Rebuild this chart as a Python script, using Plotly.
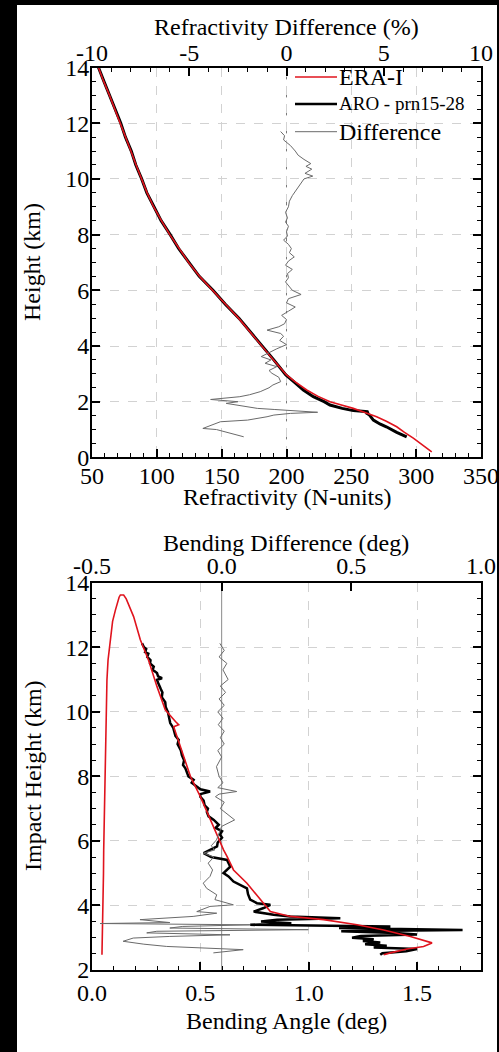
import plotly.graph_objects as go

W, H = 499, 1052
FONT = "Liberation Serif, Times New Roman, serif"

# ---------------- Panel 1: refractivity ----------------
era_ref_h = [0.2, 0.45, 0.69, 0.9, 1.1, 1.3, 1.46, 1.6, 1.76, 1.9, 2.0, 2.2, 2.42, 2.7, 2.96,
             3.5, 4.0, 4.5, 5.0, 5.5, 6.0, 6.5, 7.0, 7.5, 8.0, 8.5, 9.0, 9.5, 10.0, 10.5, 11.0,
             11.5, 12.0, 12.5, 13.0, 13.5, 14.0]
era_ref_n = [312, 305, 297.8, 291, 285, 277, 269.5, 261, 251.5, 241, 233.5, 224, 215.6, 207, 200,
             190, 181, 172, 163, 153, 143, 133, 124.5, 117, 110, 103.5, 97.5, 92.5, 88, 84, 80,
             76, 72, 67.5, 63.5, 59, 55]

aro_ref_h = [0.74, 0.9, 1.1, 1.2, 1.34, 1.45, 1.52, 1.58, 1.64, 1.68, 1.76, 1.88, 2.0, 2.18, 2.42,
             2.7, 2.96, 3.5, 4.0, 4.5, 5.0, 5.5, 6.0, 6.5, 7.0, 7.5, 8.0, 8.5, 9.0, 9.5,
             10.0, 10.5, 11.0, 11.5, 12.0, 12.5, 13.0, 13.5, 14.0]
aro_ref_n = [292.7, 285, 277, 272, 267, 265, 264, 262, 263, 251.5, 243, 233.5, 229, 220.7, 213,
             206, 199.5, 190.2, 181.3, 172.2, 163.3, 152.8, 143.3, 132.7, 124.8, 116.8, 110.3, 103.3,
             97.8, 92.3, 88.3, 83.8, 80.3, 75.8, 72.2, 67.7, 63.3, 59.2, 55]

diff_ref_h = [11.7, 11.55, 11.4, 11.2, 11.0, 10.85, 10.7, 10.55, 10.45, 10.35, 10.2, 10.1, 10.0,
              9.85, 9.7, 9.55, 9.4, 9.2, 9.0, 8.8, 8.6, 8.45, 8.3, 8.1, 7.95, 7.8, 7.65, 7.5,
              7.35, 7.2, 7.05, 6.9, 6.75, 6.6, 6.45, 6.3, 6.15, 6.0, 5.85, 5.7, 5.55, 5.4, 5.25,
              5.1, 4.95, 4.8, 4.69, 4.57, 4.45, 4.35, 4.2, 4.05, 3.9, 3.75, 3.62, 3.5, 3.38,
              3.26, 3.12, 3.02, 2.88, 2.72, 2.6, 2.5, 2.36, 2.25, 2.18, 2.08, 2.04, 2.0, 1.94,
              1.85, 1.76, 1.72, 1.68, 1.62, 1.58, 1.52, 1.46, 1.40, 1.34, 1.28, 1.2, 1.1, 1.04,
              1.0, 0.95, 0.87, 0.8, 0.74]
diff_ref_pct = [-0.3, -0.1, -0.15, 0.2, 0.45, 0.6, 0.9, 1.25, 1.0, 1.3, 0.95, 1.35, 0.9,
                0.75, 0.6, 0.45, 0.3, 0.15, 0.1, -0.05, 0.05, -0.05, 0.1, 0.0, 0.05, -0.15, 0.1, 0.25,
                0.15, 0.4, 0.1, -0.05, 0.3, 0.05, 0.1, -0.05, 0.15, 0.3, 0.75, 0.1, 0.0, 0.45, 0.1,
                -0.25, 0.0, -0.1, -0.4, -1.0, -0.3, -0.15, -0.35, 0.0, -0.5, -0.9, -1.3, -0.8, -1.1,
                -0.5, -0.9, -0.75, -0.4, -0.3, -0.7, -0.9, -1.35, -1.9, -2.4, -3.9, -3.3, -2.5, -3.1,
                -2.2, -1.5, -0.6, 0.6, 1.6, 0.2, -0.65, -1.0, -1.6, -2.0, -3.4, -3.7, -4.0, -4.3,
                -3.6, -3.3, -2.9, -2.5, -2.2]

ref_top_ticks = [-10, -5, 0, 5, 10]
ref_top_labels = ["-10", "-5", "0", "5", "10"]

# ---------------- Panel 2: bending angle ----------------
era_bend_h = [2.47, 3.0, 4.0, 5.0, 5.72, 7.0, 8.92, 10.0, 10.99, 11.6, 12.23, 12.8, 13.15, 13.4, 13.55,
              13.62, 13.62, 13.5, 13.31, 12.95, 12.23, 11.6, 10.78, 10.06, 9.7, 9.6, 9.54, 8.92,
              8.0, 7.37, 6.65, 6.03, 5.72, 5.52, 5.1, 4.69, 4.18, 3.81, 3.66, 3.56, 3.40, 3.24,
              3.04, 2.84, 2.73, 2.65, 2.53, 2.47]
era_bend_deg = [0.046, 0.048, 0.051, 0.053, 0.054, 0.057, 0.061, 0.065, 0.069, 0.074, 0.084, 0.095, 0.108,
                0.118, 0.125, 0.131, 0.146, 0.158, 0.169, 0.192, 0.223, 0.261, 0.3, 0.338, 0.385, 0.40,
                0.377, 0.408, 0.454, 0.5, 0.546, 0.584, 0.607, 0.623, 0.653, 0.715, 0.777, 0.823, 0.915,
                1.069, 1.223, 1.346, 1.469, 1.569, 1.53, 1.454, 1.377, 1.346]

aro_bend_h = [12.12, 12.0, 11.95, 11.85, 11.8, 11.7, 11.6, 11.5, 11.4, 11.3, 11.2, 11.1, 11.04, 10.99,
              10.9, 10.8, 10.7, 10.6, 10.45, 10.3, 10.15, 10.0, 9.85, 9.65, 9.5, 9.4, 9.25, 9.13,
              9.0, 8.8, 8.65, 8.5, 8.35, 8.25, 8.1, 8.0, 7.89, 7.8, 7.7, 7.6, 7.53, 7.45, 7.37,
              7.25, 7.1, 7.0, 6.9, 6.76, 6.65, 6.5, 6.4, 6.3, 6.2, 6.1, 5.95, 5.83, 5.72, 5.62,
              5.5, 5.41, 5.2, 5.0, 4.9, 4.74, 4.53, 4.35, 4.18, 4.07, 4.02, 3.92, 3.81, 3.71,
              3.66, 3.60, 3.56, 3.50, 3.45, 3.40, 3.37, 3.35, 3.30, 3.27, 3.24, 3.20, 3.15, 3.10,
              3.05, 3.00, 2.95, 2.90, 2.85, 2.80, 2.75, 2.70, 2.65, 2.58, 2.52, 2.47]
aro_bend_deg = [0.231, 0.24, 0.25, 0.245, 0.26, 0.255, 0.27, 0.268, 0.285, 0.28, 0.3, 0.305, 0.323, 0.3,
                0.305, 0.31, 0.318, 0.325, 0.322, 0.338, 0.34, 0.35, 0.355, 0.361, 0.375, 0.38, 0.385, 0.4,
                0.395, 0.41, 0.415, 0.425, 0.42, 0.431, 0.44, 0.445, 0.469, 0.46, 0.48, 0.5, 0.545, 0.5,
                0.5, 0.515, 0.52, 0.535, 0.53, 0.538, 0.562, 0.585, 0.57, 0.6, 0.59, 0.6, 0.58, 0.577,
                0.545, 0.515, 0.55, 0.623, 0.638, 0.607, 0.63,
                0.653, 0.715, 0.72, 0.73, 0.761, 0.823, 0.792, 0.746, 0.838, 0.915, 1.146, 0.854, 0.78,
                0.92, 0.73, 1.1, 1.377, 1.14, 1.55, 1.71, 1.15, 1.40, 1.50, 1.24, 1.20, 1.30, 1.25,
                1.33, 1.26, 1.36, 1.30, 1.50, 1.45, 1.34, 1.33]

diff_bend_h = [12.12, 11.9, 11.7, 11.5, 11.3, 11.0, 10.8, 10.6, 10.4, 10.2, 10.0, 9.8, 9.6, 9.4,
               9.2, 9.0, 8.8, 8.6, 8.3, 8.0, 7.8, 7.65, 7.53, 7.45, 7.37, 7.2, 7.0, 6.85, 6.65,
               6.45, 6.25, 6.03, 5.85, 5.72, 5.62, 5.5, 5.31, 5.1, 4.9, 4.69, 4.53, 4.33, 4.18,
               4.02, 3.97, 3.81, 3.76, 3.66, 3.56, 3.47, 3.44, 3.40, 3.35, 3.30, 3.25, 3.20, 3.15,
               3.09, 3.04, 2.99, 2.89, 2.80, 2.73, 2.63, 2.53]
diff_bend_deg = [-0.007, 0.01, -0.01, 0.02, 0.005, 0.025, -0.005, 0.015, -0.01, 0.01, -0.015, 0.005,
                 -0.013, 0.01, -0.005, 0.01, -0.015, 0.0, -0.02, -0.01, 0.005, -0.015, 0.058, -0.01,
                 -0.024, 0.01, -0.005, 0.02, 0.05, 0.0, -0.01, -0.02, -0.04, -0.026, -0.071, -0.03,
                 -0.052, -0.035, -0.045, -0.071, -0.058, -0.019, -0.026, 0.045, -0.045, -0.096, -0.019,
                 -0.11, -0.315, -0.2, -0.469, 0.109, -0.15, -0.2, 0.334, -0.25, -0.289, 0.032, -0.2,
                 -0.341, -0.38, -0.3, -0.212, 0.083, -0.032]

bend_top_ticks = [-0.5, 0.0, 0.5, 1.0]
bend_top_labels = ["-0.5", "0.0", "0.5", "1.0"]

# ---------------- layout helpers ----------------
def px(xp):
    return xp / W

def py(yp):
    return 1 - yp / H

X0, X1 = 92, 481
P1_TOP, P1_BOT = 67.5, 457.4
P2_TOP, P2_BOT = 582.7, 970.0

RED = "#e0141e"
GRAY = "#6a6a6a"

fig = go.Figure()

# panel 1 traces
fig.add_trace(go.Scatter(x=diff_ref_pct, y=diff_ref_h, xaxis="x2", yaxis="y", mode="lines",
                         line=dict(color=GRAY, width=1), name="Difference", showlegend=False))
fig.add_trace(go.Scatter(x=aro_ref_n, y=aro_ref_h, xaxis="x", yaxis="y", mode="lines",
                         line=dict(color="black", width=3), name="ARO - prn15-28", showlegend=False))
fig.add_trace(go.Scatter(x=era_ref_n, y=era_ref_h, xaxis="x", yaxis="y", mode="lines",
                         line=dict(color=RED, width=1.6), name="ERA-I", showlegend=False))

# panel 2 traces
fig.add_trace(go.Scatter(x=diff_bend_deg, y=diff_bend_h, xaxis="x4", yaxis="y2", mode="lines",
                         line=dict(color=GRAY, width=1), name="Difference", showlegend=False))
fig.add_trace(go.Scatter(x=aro_bend_deg, y=aro_bend_h, xaxis="x3", yaxis="y2", mode="lines",
                         line=dict(color="black", width=2.5), name="ARO", showlegend=False))
fig.add_trace(go.Scatter(x=era_bend_deg, y=era_bend_h, xaxis="x3", yaxis="y2", mode="lines",
                         line=dict(color=RED, width=1.6), name="ERA-I", showlegend=False))

tickfont = dict(family=FONT, size=24, color="black")
common = dict(showline=True, linecolor="black", linewidth=2, ticks="inside", tickcolor="black",
              tickwidth=1.5, ticklen=8, tickfont=tickfont, zeroline=False, automargin=False)
grid = dict(showgrid=True, gridcolor="#d2d2d2", griddash="dash", gridwidth=1)
minor_style = dict(ticks="inside", tickcolor="black", tickwidth=1.2, showgrid=False)

fig.update_layout(
    width=W, height=H,
    margin=dict(l=0, r=0, t=0, b=0),
    paper_bgcolor="black", plot_bgcolor="white",
    showlegend=False,
    font=dict(family=FONT, color="black"),
    xaxis=dict(domain=[px(X0), px(X1)], range=[50, 350], anchor="y", side="bottom",
               dtick=50, tick0=50, ticklabelstandoff=-4,
               minor=dict(dtick=10, ticklen=4, **minor_style),
               **grid, **common),
    xaxis2=dict(range=[-10, 10], overlaying="x", anchor="y", side="top",
                tickmode="array", tickvals=ref_top_ticks, ticktext=ref_top_labels,
                ticklabelstandoff=-5, showgrid=False,
                minor=dict(dtick=1, tick0=-10, ticklen=4, **minor_style),
                **common),
    yaxis=dict(domain=[py(P1_BOT), py(P1_TOP)], range=[0, 14], anchor="x", dtick=2, tick0=0,
               mirror="ticks", ticklabelstandoff=-4,
               minor=dict(dtick=0.5, ticklen=4, **minor_style),
               **grid, **common),
    xaxis3=dict(domain=[px(X0), px(X1)], range=[0, 1.795], anchor="y2", side="bottom",
                dtick=0.5, tick0=0, tickformat=".1f",
                minor=dict(dtick=0.1, ticklen=4, **minor_style),
                **grid, **common),
    xaxis4=dict(range=[-0.5, 1.0], overlaying="x3", anchor="y2", side="top",
                tickmode="array", tickvals=bend_top_ticks, ticktext=bend_top_labels,
                ticklabelstandoff=-3, showgrid=False, **common),
    yaxis2=dict(domain=[py(P2_BOT), py(P2_TOP)], range=[2, 14], anchor="x3", dtick=2, tick0=0,
                mirror="ticks", ticklabelstandoff=-4,
                minor=dict(dtick=0.5, ticklen=4, **minor_style),
                **grid, **common),
)

shapes = [
    # white page area over black frame
    dict(type="rect", xref="paper", yref="paper", x0=px(17), x1=px(497), y0=0, y1=py(5),
         fillcolor="white", line=dict(width=0), layer="below"),
    # zero lines of the difference axes
    dict(type="line", xref="x2", yref="y", x0=0, x1=0, y0=0, y1=14,
         line=dict(color="#7a7a7a", width=1, dash="dash"), layer="below"),
    dict(type="line", xref="x4", yref="y2", x0=0, x1=0, y0=2, y1=14,
         line=dict(color="#8a8a8a", width=1), layer="below"),
]

# legend samples
leg_x0, leg_x1 = px(295), px(337)
for yy, col, wd in [(77, RED, 1.6), (104, "black", 2.5), (131.7, GRAY, 1)]:
    shapes.append(dict(type="line", xref="paper", yref="paper", x0=leg_x0, x1=leg_x1,
                       y0=py(yy), y1=py(yy), line=dict(color=col, width=wd)))
fig.update_layout(shapes=shapes)

ann = []
def add_text(text, xp, yp, size=24, angle=0, xanchor="center"):
    ann.append(dict(text=text, x=px(xp), y=py(yp), xref="paper", yref="paper", showarrow=False,
                    font=dict(family=FONT, size=size, color="black"), textangle=angle,
                    xanchor=xanchor, yanchor="middle"))

add_text("Refractivity Difference (%)", 286, 27)
add_text("Refractivity (N-units)", 287, 497)
add_text("Height (km)", 32, 262, angle=-90)
add_text("Bending Difference (deg)", 286, 543)
add_text("Bending Angle (deg)", 286, 1021)
add_text("Impact Height (km)", 33, 776, angle=-90)
add_text("ERA-I", 337, 77, size=24, xanchor="left")
add_text("ARO - prn15-28", 337, 104, size=19, xanchor="left")
add_text("Difference", 337, 131.7, size=24, xanchor="left")
fig.update_layout(annotations=ann)

fig.write_html("out.html", config={"displayModeBar": False},
               post_script="document.body.style.margin='0';document.body.style.padding='0';"
                           "document.body.style.background='black';")
